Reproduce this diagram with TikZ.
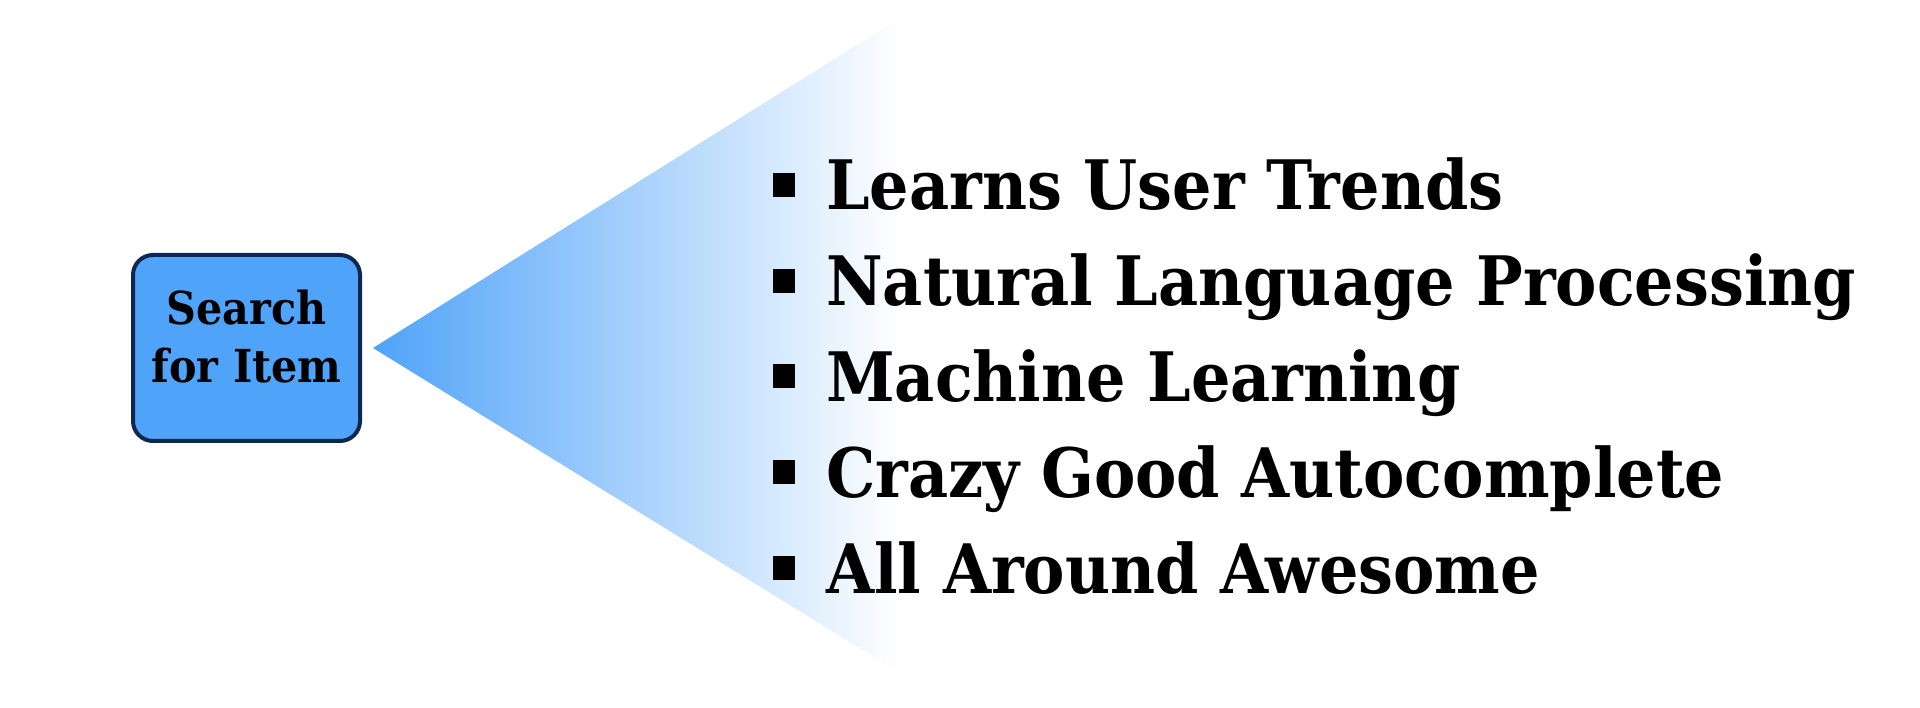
\documentclass[tikz,border=0pt]{standalone}
\usepackage{fontspec}
\setmainfont{DejaVu Serif}
\definecolor{boxblue}{HTML}{4FA3F8}
\definecolor{boxedge}{HTML}{0B2752}
\begin{document}
\begin{tikzpicture}[x=1pt,y=-1pt,
  searchbox/.style={draw=boxedge, line width=4pt, fill=boxblue, rounded corners=20pt,
    minimum width=227pt, minimum height=186pt, inner sep=0pt},
  boxtext/.style={anchor=base, inner sep=0pt, font=\fontsize{41.3}{50}\selectfont\bfseries},
  bullet/.style={fill=black, minimum width=22pt, minimum height=24pt, inner sep=0pt},
  item/.style={anchor=base west, inner sep=0pt, font=\fontsize{62}{70}\selectfont\bfseries}
]
\useasboundingbox (0,0) rectangle (1920,708);
\fill[white] (0,0) rectangle (1920,708);
% fan
\coordinate (apex) at (373,348);
\coordinate (top) at (900,18);
\coordinate (bot) at (900,673);
\shade[left color=boxblue, right color=white] (apex) -- (top) -- (bot) -- cycle;
% box
\node[searchbox] (search) at (246.5,348) {};
\node[boxtext] (s1) at (246.5,325) {\scalebox{1}[1.1]{Search}};
\node[boxtext] (s2) at (246.5,383) {\scalebox{1}[1.1]{for Item}};
% items
\foreach \i/\t in {1/Learns User Trends,
                   2/Natural Language Processing,
                   3/Machine Learning,
                   4/Crazy Good Autocomplete,
                   5/All Around Awesome}{
  \pgfmathsetmacro{\yb}{210+95.75*(\i-1)}
  \node[bullet] (b\i) at (784,\yb-25) {};
  \node[item] (t\i) at (826,\yb) {\scalebox{1}[1.1]{\t}};
}
\end{tikzpicture}
\end{document}
